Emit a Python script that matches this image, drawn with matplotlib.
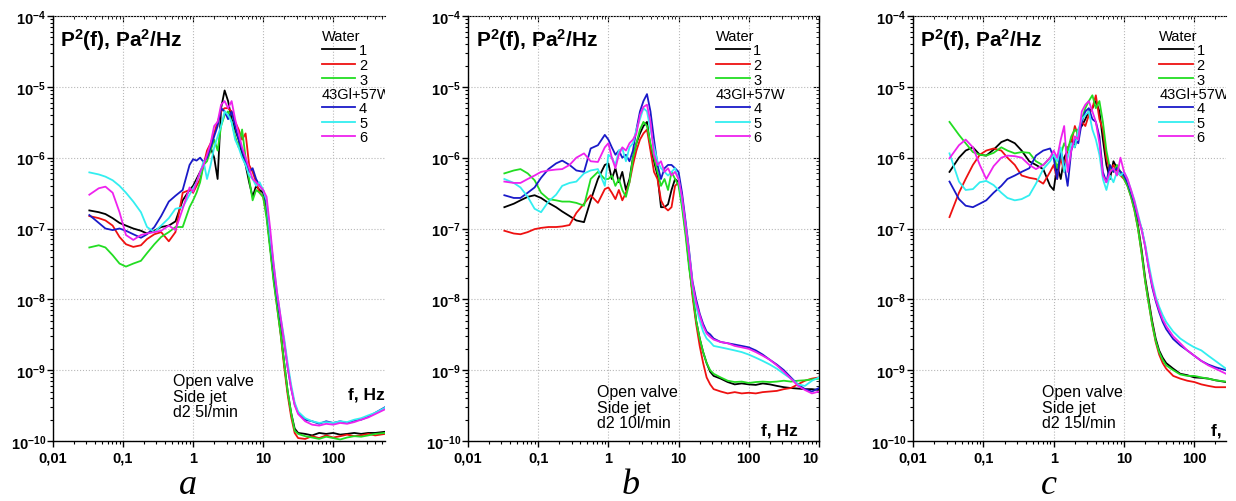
import matplotlib
matplotlib.use("Agg")
import matplotlib.pyplot as plt
from matplotlib.lines import Line2D
from matplotlib.ticker import FuncFormatter, FixedLocator, LogLocator, NullFormatter
from matplotlib.transforms import Bbox

plt.rcParams['font.family'] = 'Liberation Sans'
plt.rcParams['font.weight'] = 'bold'
plt.rcParams['mathtext.fontset'] = 'custom'
plt.rcParams['mathtext.rm'] = 'Liberation Sans:bold'
plt.rcParams['mathtext.bf'] = 'Liberation Sans:bold'
plt.rcParams['mathtext.default'] = 'bf'

# frequency grids, Hz
f_lo = [0.033, 0.045, 0.056, 0.071, 0.089, 0.11, 0.14, 0.18, 0.22, 0.28, 0.35, 0.45, 0.56, 0.71, 0.89]
f_mid = [1.0, 1.12, 1.26, 1.41, 1.58, 1.78, 2.0, 2.24, 2.51, 2.82, 3.16, 3.55, 3.98, 4.47, 5.01,
         5.62, 6.31, 7.08, 7.94, 8.91, 10.0]
f_drop = [11.2, 12.6, 14.1, 15.8, 17.8, 20.0, 22.4, 25.1, 28.2, 31.6]
f_a = f_lo + f_mid + f_drop + [39.8, 50.1, 63.1, 79.4, 100, 126, 158, 200, 251, 316, 398, 550]
f_b = f_lo + f_mid + f_drop + [39.8, 50.1, 63.1, 79.4, 100, 126, 158, 200, 251, 316, 398, 501, 631, 794, 1000]
f_c = f_lo + f_mid + f_drop + [35.5, 39.8, 50.1, 63.1, 79.4, 100, 126, 158, 200, 282]

# panel a: d2 5 l/min, P^2(f) in Pa^2/Hz
a1 = [1.8e-7, 1.7e-7, 1.6e-7, 1.4e-7, 1.2e-7, 1.1e-7, 1.0e-7, 9.3e-8, 8.5e-8, 9.3e-8, 1.05e-7, 1.1e-7, 1.26e-7, 2.5e-7, 3.5e-7,
      4.0e-7, 5.0e-7, 6.3e-7, 7.9e-7, 1.1e-6, 1.4e-6, 1.0e-6, 5.0e-7, 5.0e-6, 8.9e-6, 6.3e-6, 3.5e-6, 2.5e-6, 1.8e-6, 1.1e-6, 7.9e-7, 4.5e-7, 2.8e-7, 4.0e-7, 3.5e-7, 3.2e-7,
      1.6e-7, 5.6e-8, 2.0e-8, 8.9e-9, 3.5e-9, 1.26e-9, 5.0e-10, 2.5e-10, 1.5e-10, 1.3e-10,
      1.26e-10, 1.2e-10, 1.3e-10, 1.26e-10, 1.3e-10, 1.23e-10, 1.26e-10, 1.3e-10, 1.26e-10, 1.3e-10, 1.3e-10, 1.35e-10]
a2 = [1.5e-7, 1.4e-7, 1.3e-7, 1.1e-7, 7.6e-8, 6.0e-8, 5.5e-8, 5.8e-8, 7.1e-8, 8.3e-8, 8.9e-8, 6.6e-8, 8.9e-8, 3.2e-7, 3.5e-7,
      3.2e-7, 4.0e-7, 5.0e-7, 7.9e-7, 1.26e-6, 1.6e-6, 2.2e-6, 3.2e-6, 4.5e-6, 5.0e-6, 5.0e-6, 4.5e-6, 3.2e-6, 2.5e-6, 1.8e-6, 2.2e-6, 7.9e-7, 6.3e-7, 4.5e-7, 3.2e-7, 2.8e-7,
      1.6e-7, 5.6e-8, 2.0e-8, 7.9e-9, 3.2e-9, 1.1e-9, 4.5e-10, 2.2e-10, 1.3e-10, 1.1e-10,
      1.07e-10, 1.17e-10, 1.1e-10, 1.2e-10, 1.12e-10, 1.17e-10, 1.23e-10, 1.17e-10, 1.2e-10, 1.26e-10, 1.2e-10, 1.26e-10]
a3 = [5.4e-8, 5.8e-8, 5.4e-8, 4.2e-8, 3.2e-8, 2.9e-8, 3.2e-8, 3.5e-8, 4.5e-8, 6.0e-8, 7.6e-8, 8.9e-8, 1.05e-7, 1.05e-7, 2.0e-7,
      2.5e-7, 3.2e-7, 4.5e-7, 7.9e-7, 8.9e-7, 1.26e-6, 1.8e-6, 1.26e-6, 2.8e-6, 4.0e-6, 4.5e-6, 3.2e-6, 2.0e-6, 1.4e-6, 2.5e-6, 1.0e-6, 5.0e-7, 2.5e-7, 3.5e-7, 3.2e-7, 2.8e-7,
      1.4e-7, 5.0e-8, 1.8e-8, 7.9e-9, 3.2e-9, 1.26e-9, 5.0e-10, 2.5e-10, 1.4e-10, 1.26e-10,
      1.17e-10, 1.12e-10, 1.07e-10, 1.15e-10, 1.1e-10, 1.05e-10, 1.12e-10, 1.17e-10, 1.15e-10, 1.2e-10, 1.26e-10, 1.3e-10]
a4 = [1.55e-7, 1.2e-7, 1.0e-7, 9.5e-8, 1.0e-7, 9.3e-8, 8.3e-8, 7.4e-8, 8.3e-8, 1.05e-7, 1.5e-7, 2.4e-7, 2.9e-7, 3.5e-7, 7.9e-7,
      9.5e-7, 9.1e-7, 1.0e-6, 8.7e-7, 1.0e-6, 1.4e-6, 2.0e-6, 2.8e-6, 5.0e-6, 4.5e-6, 3.5e-6, 4.5e-6, 2.8e-6, 1.8e-6, 1.26e-6, 8.9e-7, 6.3e-7, 7.1e-7, 5.0e-7, 4.0e-7, 3.5e-7,
      2.2e-7, 7.9e-8, 2.8e-8, 1.1e-8, 5.0e-9, 2.5e-9, 1.1e-9, 5.6e-10, 3.3e-10, 2.5e-10,
      2.0e-10, 1.9e-10, 1.75e-10, 1.9e-10, 1.8e-10, 1.9e-10, 1.8e-10, 1.95e-10, 2.0e-10, 2.2e-10, 2.5e-10, 3.0e-10]
a5 = [6.2e-7, 5.8e-7, 5.4e-7, 4.8e-7, 4.0e-7, 3.2e-7, 2.4e-7, 1.7e-7, 1.05e-7, 8.9e-8, 1.1e-7, 1.4e-7, 1.9e-7, 2.0e-7, 3.0e-7,
      3.7e-7, 4.5e-7, 6.0e-7, 8.9e-7, 5.0e-7, 7.9e-7, 1.4e-6, 2.0e-6, 2.8e-6, 4.5e-6, 4.0e-6, 3.2e-6, 1.8e-6, 1.4e-6, 1.0e-6, 7.9e-7, 5.6e-7, 5.0e-7, 4.0e-7, 4.5e-7, 3.5e-7,
      2.5e-7, 7.9e-8, 3.2e-8, 1.26e-8, 5.6e-9, 2.8e-9, 1.26e-9, 6.3e-10, 3.5e-10, 2.6e-10,
      2.1e-10, 1.9e-10, 1.8e-10, 1.85e-10, 1.8e-10, 1.9e-10, 1.85e-10, 2.0e-10, 2.1e-10, 2.3e-10, 2.5e-10, 2.95e-10]
a6 = [3.0e-7, 3.7e-7, 3.9e-7, 3.2e-7, 1.7e-7, 8.1e-8, 6.9e-8, 8.1e-8, 8.5e-8, 8.9e-8, 9.3e-8, 1.1e-7, 9.5e-8, 1.9e-7, 3.8e-7,
      3.3e-7, 4.5e-7, 6.3e-7, 7.9e-7, 1.1e-6, 1.6e-6, 2.8e-6, 3.2e-6, 5.6e-6, 6.3e-6, 5.0e-6, 6.3e-6, 3.5e-6, 2.2e-6, 1.4e-6, 1.0e-6, 7.1e-7, 5.0e-7, 4.5e-7, 4.0e-7, 3.5e-7,
      2.8e-7, 1.0e-7, 3.2e-8, 1.26e-8, 5.6e-9, 2.5e-9, 1.1e-9, 5.6e-10, 3.2e-10, 2.4e-10,
      1.9e-10, 1.7e-10, 1.65e-10, 1.75e-10, 1.7e-10, 1.8e-10, 1.75e-10, 1.85e-10, 2.0e-10, 2.15e-10, 2.4e-10, 2.8e-10]

# panel b: d2 10 l/min
b1 = [2.0e-7, 2.24e-7, 2.5e-7, 2.8e-7, 2.95e-7, 2.7e-7, 2.3e-7, 2.0e-7, 1.74e-7, 1.5e-7, 1.3e-7, 1.23e-7, 2.5e-7, 5.0e-7, 7.9e-7,
      8.3e-7, 5.0e-7, 7.1e-7, 4.5e-7, 6.3e-7, 3.5e-7, 5.0e-7, 1.0e-6, 1.6e-6, 2.2e-6, 2.8e-6, 3.2e-6, 1.4e-6, 8.9e-7, 5.6e-7, 2.0e-7, 2.0e-7, 2.2e-7, 3.5e-7, 5.0e-7, 4.5e-7,
      2.5e-7, 1.0e-7, 3.2e-8, 1.26e-8, 5.0e-9, 2.8e-9, 1.8e-9, 1.26e-9, 9.5e-10, 8.3e-10,
      7.6e-10, 6.8e-10, 6.3e-10, 6.5e-10, 6.3e-10, 6.2e-10, 6.5e-10, 6.3e-10, 6.0e-10, 5.75e-10, 5.6e-10, 5.5e-10, 5.4e-10, 5.4e-10, 5.25e-10]
b2 = [9.3e-8, 8.5e-8, 8.3e-8, 8.9e-8, 9.8e-8, 1.02e-7, 1.05e-7, 1.05e-7, 1.07e-7, 1.12e-7, 1.66e-7, 2.24e-7, 2.95e-7, 2.3e-7, 3.6e-7,
      3.8e-7, 3.2e-7, 2.6e-7, 3.5e-7, 2.5e-7, 3.2e-7, 4.5e-7, 7.9e-7, 1.26e-6, 1.8e-6, 2.2e-6, 2.5e-6, 1.26e-6, 6.3e-7, 5.0e-7, 2.5e-7, 2.0e-7, 1.8e-7, 2.0e-7, 4.0e-7, 4.5e-7,
      2.2e-7, 8.9e-8, 3.2e-8, 1.1e-8, 4.5e-9, 2.2e-9, 1.26e-9, 7.9e-10, 6.3e-10, 5.4e-10,
      5.0e-10, 4.7e-10, 4.9e-10, 4.7e-10, 4.8e-10, 4.7e-10, 4.9e-10, 5.0e-10, 5.1e-10, 5.4e-10, 5.6e-10, 6.3e-10, 7.1e-10, 7.6e-10, 7.9e-10]
b3 = [6.0e-7, 6.6e-7, 6.9e-7, 6.0e-7, 4.8e-7, 3.2e-7, 2.6e-7, 2.5e-7, 2.4e-7, 2.4e-7, 2.3e-7, 2.1e-7, 5.0e-7, 6.3e-7, 5.0e-7,
      5.0e-7, 5.6e-7, 4.0e-7, 5.0e-7, 3.5e-7, 2.8e-7, 4.5e-7, 1.0e-6, 1.6e-6, 2.5e-6, 3.2e-6, 2.8e-6, 1.6e-6, 1.0e-6, 6.3e-7, 4.0e-7, 5.0e-7, 3.5e-7, 6.3e-7, 5.0e-7, 4.0e-7,
      2.0e-7, 7.9e-8, 2.8e-8, 1.26e-8, 5.0e-9, 2.8e-9, 1.8e-9, 1.26e-9, 1.0e-9, 8.9e-10,
      7.9e-10, 7.1e-10, 6.8e-10, 6.9e-10, 6.6e-10, 6.8e-10, 6.9e-10, 6.8e-10, 6.9e-10, 7.1e-10, 6.9e-10, 7.1e-10, 7.2e-10, 7.4e-10, 7.6e-10]
b4 = [2.95e-7, 2.7e-7, 2.7e-7, 3.2e-7, 3.8e-7, 5.2e-7, 6.9e-7, 8.3e-7, 9.1e-7, 7.9e-7, 6.6e-7, 6.3e-7, 1.35e-6, 1.5e-6, 2.1e-6,
      1.8e-6, 1.4e-6, 1.1e-6, 1.26e-6, 1.0e-6, 1.1e-6, 8.9e-7, 1.26e-6, 2.5e-6, 4.5e-6, 6.3e-6, 7.9e-6, 4.5e-6, 1.8e-6, 7.9e-7, 5.0e-7, 7.1e-7, 7.9e-7, 7.9e-7, 7.1e-7, 6.3e-7,
      3.2e-7, 1.26e-7, 5.0e-8, 1.8e-8, 1.0e-8, 6.3e-9, 4.5e-9, 3.5e-9, 3.2e-9, 2.8e-9,
      2.5e-9, 2.4e-9, 2.3e-9, 2.2e-9, 2.1e-9, 1.9e-9, 1.66e-9, 1.4e-9, 1.2e-9, 1.0e-9, 7.9e-10, 6.3e-10, 5.4e-10, 5.0e-10, 5.6e-10]
b5 = [5.0e-7, 4.4e-7, 3.8e-7, 2.8e-7, 1.9e-7, 1.7e-7, 2.4e-7, 3.0e-7, 4.0e-7, 4.4e-7, 4.6e-7, 6.0e-7, 6.6e-7, 6.9e-7, 4.0e-7,
      1.1e-6, 1.0e-6, 7.9e-7, 1.26e-6, 1.35e-6, 8.9e-7, 1.4e-6, 1.6e-6, 2.5e-6, 3.5e-6, 5.0e-6, 4.5e-6, 2.5e-6, 1.4e-6, 8.9e-7, 7.1e-7, 6.3e-7, 5.6e-7, 6.3e-7, 7.1e-7, 5.0e-7,
      2.5e-7, 1.1e-7, 4.5e-8, 1.6e-8, 7.9e-9, 5.0e-9, 3.5e-9, 2.8e-9, 2.5e-9, 2.2e-9,
      2.1e-9, 2.0e-9, 1.9e-9, 1.8e-9, 1.66e-9, 1.5e-9, 1.35e-9, 1.2e-9, 1.05e-9, 8.9e-10, 7.6e-10, 6.3e-10, 6.0e-10, 7.1e-10, 7.9e-10]
b6 = [4.6e-7, 4.4e-7, 4.4e-7, 5.0e-7, 5.6e-7, 6.3e-7, 6.6e-7, 6.8e-7, 6.9e-7, 7.9e-7, 1.0e-6, 1.15e-6, 8.9e-7, 8.7e-7, 1.4e-6,
      1.6e-6, 1.0e-6, 7.1e-7, 1.1e-6, 1.4e-6, 1.26e-6, 1.6e-6, 1.8e-6, 2.2e-6, 4.0e-6, 5.2e-6, 5.6e-6, 3.2e-6, 1.1e-6, 7.9e-7, 8.9e-7, 6.3e-7, 7.1e-7, 5.6e-7, 6.3e-7, 5.0e-7,
      2.8e-7, 1.1e-7, 4.5e-8, 1.66e-8, 8.9e-9, 6.0e-9, 4.2e-9, 3.3e-9, 2.95e-9, 2.7e-9,
      2.5e-9, 2.4e-9, 2.2e-9, 2.1e-9, 2.0e-9, 1.8e-9, 1.6e-9, 1.4e-9, 1.17e-9, 9.5e-10, 7.6e-10, 6.0e-10, 5.25e-10, 4.7e-10, 5.0e-10]

# panel c: d2 15 l/min
c1 = [6.3e-7, 1.0e-6, 1.26e-6, 1.4e-6, 1.1e-6, 1.07e-6, 1.3e-6, 1.66e-6, 1.8e-6, 1.6e-6, 1.26e-6, 8.9e-7, 7.9e-7, 6.9e-7, 4.0e-7,
      3.5e-7, 7.9e-7, 5.0e-7, 1.0e-6, 1.26e-6, 1.8e-6, 1.4e-6, 2.5e-6, 2.8e-6, 3.5e-6, 4.5e-6, 5.0e-6, 6.3e-6, 4.5e-6, 1.8e-6, 7.9e-7, 5.0e-7, 8.9e-7, 7.1e-7, 6.3e-7, 5.6e-7,
      4.5e-7, 3.2e-7, 2.0e-7, 1.1e-7, 5.0e-8, 2.0e-8, 1.0e-8, 5.0e-9, 2.8e-9, 1.9e-9,
      1.5e-9, 1.26e-9, 1.05e-9, 8.9e-10, 8.5e-10, 7.9e-10, 7.8e-10, 7.6e-10, 7.2e-10, 6.8e-10]
c2 = [1.45e-7, 3.2e-7, 5.0e-7, 7.9e-7, 1.1e-6, 1.26e-6, 1.35e-6, 1.26e-6, 1.0e-6, 7.9e-7, 5.6e-7, 5.2e-7, 5.0e-7, 4.3e-7, 6.3e-7,
      7.9e-7, 5.0e-7, 1.0e-6, 6.3e-7, 1.4e-6, 1.6e-6, 2.8e-6, 2.0e-6, 3.2e-6, 2.8e-6, 4.0e-6, 5.0e-6, 7.6e-6, 3.5e-6, 2.5e-6, 1.0e-6, 6.3e-7, 7.9e-7, 6.3e-7, 5.6e-7, 5.0e-7,
      4.0e-7, 2.8e-7, 1.8e-7, 1.0e-7, 4.5e-8, 1.8e-8, 8.9e-9, 4.5e-9, 2.5e-9, 1.66e-9,
      1.26e-9, 1.05e-9, 8.3e-10, 7.6e-10, 7.1e-10, 6.8e-10, 6.3e-10, 6.0e-10, 5.75e-10, 5.75e-10]
c3 = [3.2e-6, 2.1e-6, 1.6e-6, 1.2e-6, 1.1e-6, 1.07e-6, 1.17e-6, 1.4e-6, 1.26e-6, 1.15e-6, 1.2e-6, 1.17e-6, 8.9e-7, 7.8e-7, 1.0e-6,
      1.1e-6, 7.1e-7, 1.1e-6, 1.6e-6, 1.26e-6, 2.0e-6, 2.5e-6, 2.2e-6, 3.5e-6, 5.0e-6, 6.3e-6, 7.6e-6, 5.0e-6, 6.3e-6, 3.2e-6, 1.26e-6, 7.1e-7, 6.3e-7, 7.9e-7, 6.3e-7, 5.0e-7,
      4.0e-7, 2.8e-7, 1.8e-7, 1.0e-7, 4.5e-8, 1.8e-8, 8.9e-9, 4.5e-9, 2.6e-9, 1.8e-9,
      1.4e-9, 1.17e-9, 1.0e-9, 8.7e-10, 8.3e-10, 8.3e-10, 7.9e-10, 7.6e-10, 7.2e-10, 6.9e-10]
c4 = [4.6e-7, 2.6e-7, 2.1e-7, 2.0e-7, 2.24e-7, 2.5e-7, 3.2e-7, 4.0e-7, 5.0e-7, 5.6e-7, 6.3e-7, 7.1e-7, 1.07e-6, 1.26e-6, 1.35e-6,
      1.0e-6, 5.0e-7, 1.26e-6, 7.9e-7, 4.0e-7, 1.26e-6, 1.8e-6, 1.6e-6, 3.2e-6, 4.5e-6, 5.0e-6, 3.5e-6, 3.2e-6, 2.0e-6, 6.3e-7, 4.5e-7, 7.9e-7, 6.3e-7, 7.1e-7, 6.3e-7, 5.6e-7,
      4.5e-7, 3.2e-7, 2.24e-7, 1.4e-7, 1.0e-7, 5.6e-8, 2.8e-8, 1.5e-8, 9.5e-9, 6.6e-9,
      4.8e-9, 3.8e-9, 2.75e-9, 2.24e-9, 1.9e-9, 1.6e-9, 1.35e-9, 1.2e-9, 1.1e-9, 1.0e-9]
c5 = [1.15e-6, 4.6e-7, 3.5e-7, 3.6e-7, 4.5e-7, 4.7e-7, 4.1e-7, 3.2e-7, 2.7e-7, 2.5e-7, 2.6e-7, 2.95e-7, 4.3e-7, 6.9e-7, 8.9e-7,
      1.1e-6, 8.9e-7, 1.4e-6, 6.3e-7, 1.0e-6, 1.6e-6, 1.4e-6, 2.5e-6, 3.5e-6, 4.0e-6, 4.5e-6, 2.5e-6, 1.8e-6, 1.1e-6, 5.0e-7, 3.5e-7, 5.6e-7, 4.5e-7, 6.3e-7, 5.6e-7, 6.3e-7,
      5.0e-7, 3.5e-7, 2.5e-7, 1.6e-7, 1.0e-7, 6.0e-8, 3.2e-8, 1.8e-8, 1.1e-8, 7.9e-9,
      6.0e-9, 4.8e-9, 3.5e-9, 2.8e-9, 2.4e-9, 2.1e-9, 1.9e-9, 1.6e-9, 1.35e-9, 1.05e-9]
c6 = [9.8e-7, 1.5e-6, 1.8e-6, 1.4e-6, 7.9e-7, 5.0e-7, 7.6e-7, 1.0e-6, 1.07e-6, 1.05e-6, 1.0e-6, 7.9e-7, 6.9e-7, 7.9e-7, 1.0e-6,
      1.26e-6, 1.0e-6, 1.8e-6, 2.8e-6, 6.3e-7, 1.26e-6, 2.0e-6, 1.8e-6, 4.5e-6, 5.6e-6, 6.3e-6, 4.5e-6, 3.2e-6, 1.6e-6, 5.6e-7, 4.5e-7, 6.3e-7, 7.1e-7, 5.6e-7, 1.0e-6, 6.3e-7,
      5.0e-7, 3.5e-7, 2.4e-7, 1.5e-7, 9.5e-8, 5.6e-8, 2.8e-8, 1.6e-8, 1.0e-8, 7.1e-9,
      5.2e-9, 4.2e-9, 3.0e-9, 2.4e-9, 1.9e-9, 1.6e-9, 1.35e-9, 1.17e-9, 1.05e-9, 8.9e-10]

series_labels = ['1', '2', '3', '4', '5', '6']
colors = ['#000000', '#ee1111', '#22dd22', '#1a1ac8', '#33eef0', '#ee22ee']
xtick_vals = [0.01, 0.1, 1, 10, 100, 1000]
xtick_text = ['0,01', '0,1', '1', '10', '100', '1000']
xtick_map = dict(zip(xtick_vals, xtick_text))
ytick_vals = [1e-10, 1e-9, 1e-8, 1e-7, 1e-6, 1e-5, 1e-4]

panels = [
    # freqs, series, xmax, axes rect, legend x, note x, note y, "f, Hz" pos, flow, letter, letter x
    (f_a, [a1, a2, a3, a4, a5, a6], 550, [0.0429, 0.1195, 0.2686, 0.8466], 0.81,
     0.52, 4.3e-10, (163, 4.6e-10), 'd2 5l/min', 'a', 0.152),
    (f_b, [b1, b2, b3, b4, b5, b6], 1000, [0.3786, 0.1195, 0.2840, 0.8466], 0.707,
     0.70, 3.0e-10, (150, 1.45e-10), 'd2 10l/min', 'b', 0.51),
    (f_c, [c1, c2, c3, c4, c5, c6], 282, [0.7387, 0.1195, 0.2532, 0.8466], 0.787,
     0.69, 3.0e-10, (174, 1.45e-10), 'd2 15l/min', 'c', 0.849),
]

fig = plt.figure(figsize=(12.36, 5.02), dpi=100)
axes = []

for i, (freqs, series, xmax, rect, lx, nx, ny, fpos, flow, letter, letx) in enumerate(panels):
    ax = fig.add_axes(rect)
    axes.append(ax)
    ax.set_xscale('log')
    ax.set_yscale('log')
    for p, col in zip(series, colors):
        ax.plot(freqs, p, color=col, lw=1.3)
    ax.set_xlim(0.01, xmax)
    ax.set_ylim(1e-10, 1e-4)

    ax.xaxis.set_major_locator(FixedLocator(xtick_vals))
    ax.xaxis.set_major_formatter(FuncFormatter(lambda v, pos: xtick_map.get(round(v, 3), '')))
    ax.xaxis.set_minor_locator(LogLocator(base=10, subs=range(2, 10), numticks=12))
    ax.xaxis.set_minor_formatter(NullFormatter())
    ax.yaxis.set_major_locator(FixedLocator(ytick_vals))
    ax.yaxis.set_minor_locator(LogLocator(base=10, subs=range(2, 10), numticks=12))
    ax.yaxis.set_minor_formatter(NullFormatter())
    ax.tick_params(which='major', direction='out', length=4, width=1, labelsize=10.5, pad=3)
    ax.tick_params(which='minor', direction='out', length=2, width=0.8)
    ax.tick_params(axis='y', pad=1)
    ax.grid(True, which='major', linestyle=':', color='#b8b8b8', linewidth=0.8)

    for s in ['left', 'bottom']:
        ax.spines[s].set_linewidth(1.0)
    ax.spines['top'].set_visible(False)
    ax.spines['right'].set_visible(False)
    top = ax.secondary_xaxis('top')
    top.tick_params(which='both', direction='in', labeltop=False)
    top.tick_params(which='major', length=4)
    top.tick_params(which='minor', length=2)
    top.spines['top'].set_linewidth(0.8)
    if i == 1:
        right = ax.secondary_yaxis('right')
        right.tick_params(which='both', direction='in', labelright=False)
        right.tick_params(which='major', length=4)
        right.tick_params(which='minor', length=2)
        right.spines['right'].set_linewidth(1.0)

    ax.text(0.022, 0.945, r'P$^2$(f), Pa$^2$/Hz', transform=ax.transAxes,
            fontsize=15, fontweight='bold', va='center', ha='left')

    h1 = [Line2D([], [], color=c, lw=1.3) for c in colors[:3]]
    h2 = [Line2D([], [], color=c, lw=1.3) for c in colors[3:]]
    common = dict(loc='upper left', frameon=False, alignment='left', handlelength=2.3,
                  handletextpad=0.25, labelspacing=0.04, borderaxespad=0, borderpad=0,
                  prop={'size': 10.5, 'weight': 'normal'},
                  title_fontproperties={'size': 10.5, 'weight': 'normal'})
    leg1 = ax.legend(h1, series_labels[:3], title='Water', bbox_to_anchor=(lx, 0.970), **common)
    ax.add_artist(leg1)
    leg2 = ax.legend(h2, series_labels[3:], title='43Gl+57W', bbox_to_anchor=(lx, 0.834), **common)
    for leg in (leg1, leg2):
        for t in leg.get_texts() + [leg.get_title()]:
            t.set_clip_box(ax.bbox)
            t.set_clip_on(True)

    ax.text(nx, ny, 'Open valve\nSide jet\n' + flow, fontsize=11.5, fontweight='normal',
            ha='left', va='center', linespacing=1.05)
    ax.text(fpos[0], fpos[1], 'f, Hz', fontsize=12.5, fontweight='bold', ha='left',
            va='center', clip_on=True)

    fig.text(letx, 0.0, letter, family='Liberation Serif', style='italic',
             fontweight='normal', fontsize=26, ha='center', va='bottom')

# the source figure is cropped at the right edge of panel b
fig.canvas.draw()
edge = axes[1].bbox.x1
clip = Bbox.from_extents(0, 0, edge, fig.bbox.height)
for lab in axes[1].get_xticklabels():
    lab.set_clip_box(clip)
    lab.set_clip_on(True)

fig.savefig('out.png', dpi=100)
